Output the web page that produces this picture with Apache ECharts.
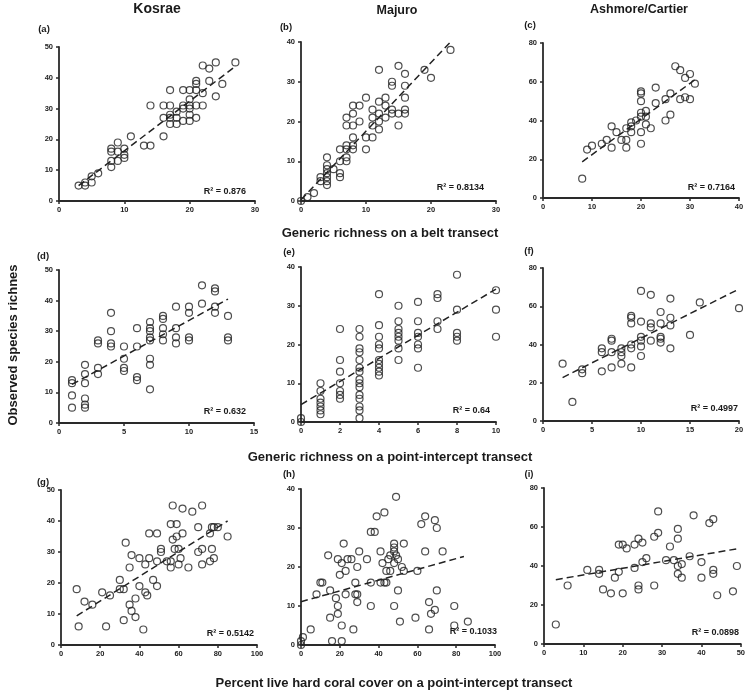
<!DOCTYPE html>
<html><head><meta charset="utf-8">
<script src="https://cdn.jsdelivr.net/npm/echarts@6/dist/echarts.min.js"></script>
<style>html,body{margin:0;padding:0;background:#fff}#c{width:748px;height:693px}</style>
</head><body><div id="c"></div>
<script>
// ---- data ----
const ptsA = [[3,5],[4,5],[4,6],[5,6],[5,8],[6,9],[8,11],[8,13],[8,16],[8,17],[9,13],[9,16],[9,19],[10,14],[10,15],[10,17],[11,21],[13,18],[14,18],[14,31],[16,21],[16,27],[16,31],[17,25],[17,27],[17,28],[17,31],[17,36],[18,25],[18,27],[18,29],[19,26],[19,30],[19,31],[19,36],[20,26],[20,28],[20,30],[20,31],[20,33],[20,36],[21,27],[21,31],[21,36],[21,38],[21,39],[22,31],[22,35],[22,44],[23,39],[23,43],[24,34],[24,45],[25,38],[27,45]];
const ptsB = [[0,0],[1,1],[2,2],[3,5],[3,6],[4,4],[4,5],[4,6],[4,7],[4,8],[4,9],[4,11],[5,8],[6,6],[6,7],[6,10],[6,13],[7,10],[7,11],[7,13],[7,14],[7,19],[7,21],[8,13],[8,14],[8,16],[8,19],[8,22],[8,24],[9,20],[9,24],[10,13],[10,16],[10,26],[11,16],[11,19],[11,21],[11,23],[12,18],[12,20],[12,22],[12,25],[12,33],[13,21],[13,24],[13,26],[14,22],[14,23],[14,29],[14,30],[15,19],[15,22],[15,34],[16,22],[16,23],[16,26],[16,29],[16,32],[19,33],[20,31],[23,38]];
const ptsC = [[8,10],[9,25],[10,27],[12,28],[13,30],[14,26],[14,37],[15,34],[16,30],[17,26],[17,30],[17,36],[18,34],[18,37],[18,39],[19,40],[20,28],[20,34],[20,42],[20,44],[20,50],[20,54],[20,55],[21,38],[21,42],[21,45],[22,36],[23,49],[23,57],[25,40],[25,51],[26,43],[26,54],[27,68],[28,51],[28,66],[29,52],[29,62],[30,51],[30,64],[31,59]];
const ptsD = [[1,5],[1,9],[1,13],[1,14],[2,5],[2,6],[2,8],[2,13],[2,16],[2,19],[3,16],[3,18],[3,26],[3,27],[4,25],[4,26],[4,30],[4,36],[5,17],[5,18],[5,21],[5,25],[6,14],[6,15],[6,25],[6,31],[7,11],[7,19],[7,21],[7,27],[7,28],[7,30],[7,31],[7,33],[8,27],[8,29],[8,31],[8,34],[8,35],[9,26],[9,28],[9,31],[9,38],[10,27],[10,28],[10,36],[10,38],[11,39],[11,45],[12,36],[12,38],[12,43],[12,44],[13,27],[13,28],[13,35]];
const ptsE = [[0,0],[0,1],[1,2],[1,3],[1,4],[1,5],[1,6],[1,8],[1,10],[2,6],[2,7],[2,8],[2,10],[2,13],[2,16],[2,24],[3,1],[3,3],[3,4],[3,6],[3,7],[3,9],[3,10],[3,11],[3,13],[3,14],[3,16],[3,18],[3,19],[3,22],[3,24],[4,12],[4,13],[4,14],[4,15],[4,16],[4,19],[4,20],[4,22],[4,25],[4,33],[5,16],[5,19],[5,21],[5,22],[5,23],[5,24],[5,26],[5,30],[6,14],[6,19],[6,20],[6,22],[6,23],[6,26],[6,31],[7,24],[7,26],[7,32],[7,33],[8,21],[8,22],[8,23],[8,29],[8,38],[10,22],[10,29],[10,34]];
const ptsF = [[2,30],[3,10],[4,25],[4,27],[6,26],[6,36],[6,38],[7,28],[7,36],[7,42],[7,43],[8,30],[8,34],[8,36],[8,38],[9,28],[9,38],[9,40],[9,51],[9,54],[9,55],[10,34],[10,39],[10,42],[10,44],[10,52],[10,68],[11,42],[11,49],[11,51],[11,66],[12,41],[12,43],[12,44],[12,51],[12,57],[13,38],[13,50],[13,54],[13,64],[15,45],[16,62],[20,59]];
const ptsG = [[8,18],[9,6],[12,14],[16,13],[21,17],[23,6],[25,16],[30,18],[30,21],[32,8],[32,18],[33,33],[35,13],[35,25],[36,11],[36,29],[38,9],[38,15],[40,19],[40,28],[42,5],[43,17],[43,26],[44,16],[45,28],[45,36],[47,21],[49,19],[49,27],[49,36],[51,30],[51,31],[54,27],[56,25],[56,27],[56,39],[57,34],[57,45],[58,31],[59,35],[59,39],[60,26],[60,31],[61,28],[62,36],[62,44],[65,25],[67,43],[70,30],[70,38],[72,26],[72,31],[72,45],[76,27],[76,36],[77,31],[77,38],[78,28],[78,38],[80,38],[85,35]];
const ptsH = [[0,0],[0,1],[1,2],[5,4],[8,13],[10,16],[11,16],[14,23],[15,7],[15,14],[16,1],[18,12],[19,8],[19,10],[19,22],[20,18],[21,1],[21,5],[21,21],[22,26],[23,13],[23,19],[24,22],[26,22],[27,4],[28,13],[28,16],[29,11],[29,13],[29,20],[30,24],[34,22],[36,10],[36,16],[36,29],[38,29],[39,33],[41,16],[41,24],[42,21],[43,16],[43,34],[44,16],[44,19],[45,22],[46,19],[46,23],[48,10],[48,21],[48,24],[48,25],[48,26],[49,23],[49,38],[50,14],[50,22],[51,6],[52,20],[53,19],[53,26],[59,7],[60,19],[62,31],[64,24],[64,33],[66,4],[66,11],[67,8],[69,9],[69,32],[70,14],[70,30],[73,24],[79,5],[79,10],[86,6]];
const ptsI = [[3,10],[6,30],[11,38],[14,36],[14,38],[15,28],[17,26],[18,34],[19,37],[19,51],[20,26],[20,51],[21,49],[23,39],[23,51],[24,28],[24,30],[24,54],[25,42],[25,52],[26,44],[28,30],[28,55],[29,57],[29,68],[31,43],[32,50],[33,43],[34,36],[34,40],[34,54],[34,59],[35,34],[35,41],[37,45],[38,66],[40,34],[40,42],[42,62],[43,36],[43,38],[43,64],[44,25],[48,27],[49,40]];

const trendA = [[3,5],[27,43.7]];
const trendB = [[0,0.3],[23,40]];
const trendC = [[8,18.7],[31,61]];
const trendD = [[1,12.6],[13,40.5]];
const trendE = [[0,4.5],[10,34.3]];
const trendF = [[2,22.7],[20,69]];
const trendG = [[8,9.4],[85,40]];
const trendH = [[0,11.1],[84,22.7]];
const trendI = [[3,33],[49,48.8]];

const r2Texts = ['R² = 0.876','R² = 0.8134','R² = 0.7164','R² = 0.632','R² = 0.64','R² = 0.4997','R² = 0.5142','R² = 0.1033','R² = 0.0898'];
const panelLabels = ['(a)','(b)','(c)','(d)','(e)','(f)','(g)','(h)','(i)'];
const xMaxes = [30,30,40,15,10,20,100,100,50];
const xSteps = [10,10,10,5,2,5,20,20,10];
const yMaxes = [50,40,80,50,40,80,50,40,80];
const ySteps = [10,10,20,10,10,20,10,10,20];
const siteTitles = ['Kosrae','Majuro','Ashmore/Cartier'];
const rowTitles = ['Generic richness on a belt transect','Generic richness on a point-intercept transect','Percent live hard coral cover on a point-intercept transect'];
const yTitle = 'Observed species richnes';

const allPts = [ptsA,ptsB,ptsC,ptsD,ptsE,ptsF,ptsG,ptsH,ptsI];
const allTrends = [trendA,trendB,trendC,trendD,trendE,trendF,trendG,trendH,trendI];

// ---- layout ----
const grids = [
  {left:59,top:47,width:196,height:154},
  {left:301,top:42,width:195,height:159},
  {left:543,top:43,width:196,height:155},
  {left:59,top:270,width:195,height:153},
  {left:301,top:267,width:195,height:155},
  {left:543,top:268,width:196,height:153},
  {left:61,top:490,width:196,height:155},
  {left:301,top:489,width:194,height:156},
  {left:544,top:488,width:197,height:156}
];
const labelPos = [[44,29],[286,27],[530,25],[43,256],[289,252],[529,251],[43,482],[289,474],[529,474]];
const r2Pos = [[246,192],[484,188],[735,188],[246,412],[490,411],[738,409],[254,634],[497,632],[739,633]];

const FONT = 'Liberation Sans, Arial, sans-serif';
const axisCol = '#2a2a2a';
const axisLabel = {fontSize:7.5,fontWeight:'bold',color:'#222',fontFamily:FONT};

const xAxis = [], yAxis = [], series = [];
grids.forEach((g,i)=>{
  xAxis.push({gridIndex:i,type:'value',min:0,max:xMaxes[i],interval:xSteps[i],
    axisLine:{onZero:false,lineStyle:{color:axisCol,width:1.8}},
    axisTick:{length:3,lineStyle:{color:axisCol,width:1.5}},
    splitLine:{show:false},axisLabel:Object.assign({margin:5},axisLabel)});
  yAxis.push({gridIndex:i,type:'value',min:0,max:yMaxes[i],interval:ySteps[i],
    axisLine:{onZero:false,lineStyle:{color:axisCol,width:1.8}},
    axisTick:{length:3,lineStyle:{color:axisCol,width:1.5}},
    splitLine:{show:false},axisLabel:Object.assign({margin:6},axisLabel)});
  series.push({type:'scatter',xAxisIndex:i,yAxisIndex:i,data:allPts[i],symbol:'circle',symbolSize:7,
    itemStyle:{color:'rgba(255,255,255,0)',borderColor:'#222',borderWidth:1.2},z:3,silent:true});
  series.push({type:'line',xAxisIndex:i,yAxisIndex:i,data:allTrends[i],symbol:'none',
    lineStyle:{color:'#222',width:1.5,type:[7,4]},z:4,silent:true});
});

const graphic = [];
function txt(x,y,text,size,align,extra){
  graphic.push(Object.assign({type:'text',x:x,y:y,style:{text:text,fontSize:size,fontWeight:'bold',fontFamily:FONT,fill:'#1a1a1a',textAlign:align||'center',textVerticalAlign:'middle'}},extra||{}));
}
txt(157,9,siteTitles[0],14);
txt(397,11,siteTitles[1],12.5);
txt(639,10,siteTitles[2],12.5);
txt(390,233,rowTitles[0],13);
txt(390,457,rowTitles[1],13);
txt(394,683,rowTitles[2],13);
txt(13,345,yTitle,13,'center',{rotation:Math.PI/2});
panelLabels.forEach((l,i)=>txt(labelPos[i][0],labelPos[i][1],l,9.5));
r2Texts.forEach((t,i)=>txt(r2Pos[i][0],r2Pos[i][1],t,9,'right'));

const chart = echarts.init(document.getElementById('c'),null,{renderer:'canvas'});
chart.setOption({animation:false,backgroundColor:'#fff',grid:grids,xAxis:xAxis,yAxis:yAxis,series:series,graphic:graphic});
</script></body></html>
